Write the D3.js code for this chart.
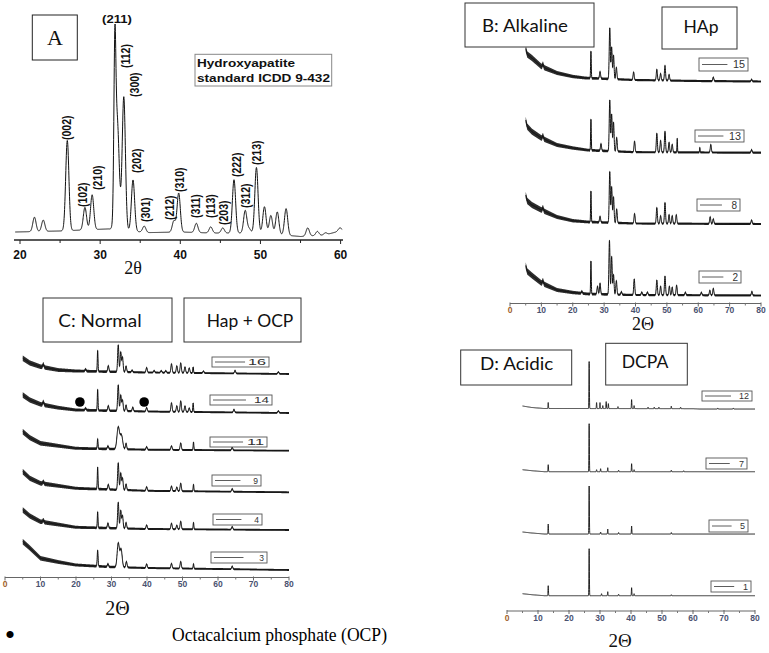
<!DOCTYPE html>
<html><head><meta charset="utf-8">
<script src="https://cdn.jsdelivr.net/npm/d3@7"></script>
<style>body{margin:0;background:#fff}svg{display:block}</style>
</head><body>
<script>
// ---------------- DATA ----------------
// Panel A : Hydroxyapatite standard ICDD 9-432  [2θ, relative intensity, (sigma)]
const aPeaks = [[21.8,7],[22.9,5.5],[25.9,44],[28.1,11],[29.0,17],[31.83,71,0.12],[32.12,54,0.25],
  [32.95,65],[34.1,25],[35.5,3],[39.2,5.5],[39.8,19],[42.0,4.5],[43.8,3],[45.3,2.5],[46.7,26],
  [48.1,11],[48.6,2],[49.5,32],[50.5,13],[51.3,9],[52.1,11],[53.2,13],[55.9,4],[57.1,2],[58.1,1],[59.9,1.5]];
const aBackground = [[19.4,0],[25,0.5],[31,1.5],[36,-0.3],[40,0],[44,-0.5],[50,-0.5],[55,-2.2],[58,-1.5],[60.2,0.8]];
const aLabels = [["(002)",25.85,44.9],["(102)",27.85,12.2],["(210)",29.7,20.5],["(112)",33.2,80],["(300)",34.3,65.9],
  ["(202)",34.57,28.8],["(301)",35.7,4.9],["(212)",38.7,5.9],["(310)",39.9,19.5],["(311)",41.9,6.8],["(113)",43.8,6.8],
  ["(203)",45.4,3.4],["(222)",47.0,26.8],["(312)",48.1,11.7],["(213)",49.5,32.7]];
const aTopLabel = ["(211)",32.1,102];
const aTicks = [20,30,40,50,60];
const aMinorTicks = [25,35,45,55];

// Panel B : Alkaline (HAp)   offsets = stacking offsets
const bNames = ["2","8","13","15"];
const bOffsets = [8,79.5,150.8,222];
const bPeaks2 = [[10.5,3],[22.9,2],[25.8,33,0.1],[27.9,8],[28.7,11],[31.7,54],[32.4,38],[33.0,20],[33.9,14],[35.5,3],
  [39.6,16],[42,3],[43.8,3],[46.8,15],[48.0,9],[49.4,19],[50.8,9],[51.7,8],[53.1,10],[55.9,3],[61,3],[63.7,5],[64.8,7],[77.1,4]];
const bPeaks8 = [[10.5,3],[25.8,31,0.1],[28.7,6],[31.8,51],[32.4,36],[33.0,26],[34.0,14],[39.7,10],[46.8,16],[48.0,8],
  [49.4,21],[50.7,9],[51.7,8],[53.0,9],[63.8,7],[64.8,5],[77,4]];
const bPeaks13 = [[10.5,3],[25.8,31,0.1],[29,7],[31.8,51],[32.4,37],[33.0,29],[34.0,14],[39.7,11],[46.8,19],[48.0,12],
  [49.4,21],[50.7,10],[51.7,8],[53.3,14,0.08],[60.5,5,0.08],[64,8],[77,3]];
const bPeaks15 = [[10.5,3],[25.8,27,0.1],[28.7,7],[31.8,51],[32.4,32],[33.0,24],[33.9,12],[39.4,8],[46.8,11],[48.0,7],
  [49.4,15],[50.7,6],[64.8,4],[77,2]];
const bBack2 = [[5,30],[5.5,24],[7,20],[10,12.5],[15,5.5],[20,3],[25,1.5],[40,0.5],[80,0]];
const bBack8 = [[5,29],[5.5,23],[7,19],[10,14],[15,7],[20,3.3],[25,2],[40,0.5],[80,0]];
const bBack13 = [[5,32.7],[5.5,26],[7,21],[10,14.7],[15,7.7],[20,4.7],[25,2.5],[40,0.5],[80,0]];
const bBack15 = [[5,33],[5.5,27],[7,23.5],[10,15],[15,8.5],[20,5],[24,3.5],[40,1.5],[60,0.5],[80,0]];
const bNoiseBand = [[5,3.2],[10,2.8],[15,2.0],[25,1.4],[40,1.1],[80,1.1]]; // half-thickness of noisy trace

// Panel C : Normal (Hap + OCP)
const cNames = ["3","4","9","11","14","16"];
const cOffsets = [7.5,47.5,85.2,126.8,164.5,203.5];
const cPeaks3 = [[26.1,16,0.12],[29,3],[31.9,24,0.3],[32.7,18,0.3],[34.2,6],[39.9,4],[46.9,5],[49.5,7],[53.1,5,0.1],[64,3]];
const cPeaks4 = [[10.8,2],[26.1,16,0.1],[29,5],[31.9,26],[32.6,18],[33.1,13],[34.1,6],[39.9,4],[46.9,6],[48.4,4],[49.5,8],[53.1,7,0.1],[64,3]];
const cPeaks9 = [[10.8,2],[26.1,22,0.1],[29.1,5],[31.9,27],[32.6,17],[33.1,12],[34.1,6],[39.9,4],[46.9,5],[48.4,4],[49.5,8],[53.1,7,0.1],[64,3]];
const cPeaks11 = [[26.1,10,0.1],[29,3],[31.9,22,0.35],[32.8,14,0.35],[34.1,6],[39.9,3],[46.9,4],[49.5,7],[53.1,8,0.1],[64,3]];
const cPeaks14 = [[10.8,3],[22.7,2],[26.1,21,0.1],[29.1,5],[31.9,26],[32.6,16],[33.1,11],[34.1,6],[36,4],[39.9,4],
  [46.9,9],[48.4,6],[49.5,11],[50.7,6],[51.9,4],[53.0,9,0.1],[64.5,3],[77,2]];
const cPeaks16 = [[10.8,3],[22.7,2],[26.1,21,0.1],[29.1,6],[31.9,27],[32.6,20],[33.1,15],[34.1,6],[35.8,2],[39.9,5],
  [42,2],[44,2],[45.3,2],[46.9,9],[48.4,7],[49.5,10],[50.7,6],[51.9,5],[53.0,6,0.1],[55.9,2],[64.8,3],[77,2]];
const cBack3 = [[5,28.3],[7,22],[10,11.7],[15,8],[20,5],[30,3],[40,2],[80,0]];
const cBack4 = [[5,20],[7,14],[10,8.3],[20,2.7],[40,1],[80,0]];
const cBack9 = [[5,20.6],[7,14],[10,9],[20,4],[40,1.5],[80,0]];
const cBack11 = [[5,19],[7,13],[10,7.4],[20,2.4],[40,1],[80,0]];
const cBack14 = [[5,18],[7,13],[10,8.7],[15,5.3],[20,3],[40,1.5],[80,0]];
const cBack16 = [[5,15.7],[7,11],[10,7.3],[15,4],[20,3],[40,1.5],[80,0]];
const cNoiseBand = [[5,2.8],[10,2.3],[20,1.5],[40,1.0],[80,0.9]];
const cOcpMarks = [[21.1,11],[39.2,11]]; // on trace 14

// Panel D : Acidic (DCPA)
const dNames = ["1","5","7","12"];
const dOffsets = [15.3,77,139.3,202];
const dPeaks1 = [[13.3,10],[26.5,47],[30.5,2],[32.5,4],[36,1.5],[40.2,8],[41,2],[53,1]];
const dPeaks5 = [[13.3,10],[26.5,48],[30.2,2],[32.5,5],[36,1.5],[40.2,8],[53,1.5]];
const dPeaks7 = [[13.3,7],[26.5,48],[28.9,2],[30.2,3],[32.5,4],[36,1.5],[40.2,8],[41,2],[53,1.5],[57,1]];
const dPeaks12 = [[13.3,6],[26.5,47],[28.9,6],[30.0,6],[30.9,3],[32.0,7],[32.7,5],[35.8,2],[40.2,9],[41.0,3],
  [45.5,1.5],[47.5,1.5],[49,1.5],[53,2.5],[56,1.5],[68,1],[73,1]];
const dBack1 = [[5,2],[8,1],[12,0],[80,0]];
const dBack5 = [[5,2],[8,1],[12,0],[80,0]];
const dBack7 = [[5,2],[8,1],[12,0],[80,0]];
const dBack12 = [[5,3],[8,1.5],[12,0.5],[60,0.3],[62,0],[80,0]];

const ticks80 = [0,10,20,30,40,50,60,70,80];
const minor80 = [5,15,25,35,45,55,65,75];

// ---------------- HELPERS ----------------
function bgAt(bg,x){
  if(x<=bg[0][0]) return bg[0][1];
  for(let i=1;i<bg.length;i++){
    if(x<=bg[i][0]){const t=(x-bg[i-1][0])/(bg[i][0]-bg[i-1][0]);return bg[i-1][1]+t*(bg[i][1]-bg[i-1][1]);}
  }
  return bg[bg.length-1][1];
}
function profile(peaks,bg,x0,x1,step,sigma,offset){
  let xs=d3.range(x0,x1+step/2,step);
  peaks.forEach(p=>xs.push(p[0]));
  xs=xs.filter(x=>x>=x0&&x<=x1).sort((a,b)=>a-b);
  return xs.map(x=>{
    let y=bgAt(bg,x)+offset;
    for(const p of peaks){const s=p[2]||sigma;const d=x-p[0];if(Math.abs(d)<6*s)y+=p[1]*Math.exp(-d*d/(2*s*s));}
    return [x,y];
  });
}
const svg=d3.select("body").append("svg").attr("width",769).attr("height",653)
  .style("font-family","'Liberation Sans',Arial,sans-serif");

function box(x,y,w,h,stroke,sw){
  svg.append("rect").attr("x",x).attr("y",y).attr("width",w).attr("height",h)
    .attr("fill","#fff").attr("stroke",stroke||"#222").attr("stroke-width",sw||1);
}
function boxText(t,x,y,len,size){
  svg.append("text").attr("x",x).attr("y",y).text(t).attr("font-family","Lato,'Open Sans',sans-serif")
    .attr("font-size",size||18).attr("fill","#111").attr("textLength",len).attr("lengthAdjust","spacingAndGlyphs");
}
function legend(x,y,w,h,label,size,len){
  svg.append("rect").attr("x",x).attr("y",y).attr("width",w).attr("height",h).attr("fill","#fff")
    .attr("stroke","#555").attr("stroke-width",0.9);
  svg.append("line").attr("x1",x+3).attr("x2",x+w*0.58).attr("y1",y+h/2).attr("y2",y+h/2)
    .attr("stroke","#333").attr("stroke-width",0.8);
  const t=svg.append("text").attr("x",x+w-3).attr("y",y+h/2).attr("dy","0.36em").attr("text-anchor","end")
    .attr("font-size",size).attr("fill","#333").text(label);
  if(len) t.attr("textLength",len).attr("lengthAdjust","spacingAndGlyphs");
}
function axis80(x,yAx){
  svg.append("line").attr("x1",x(0)).attr("x2",x(80)).attr("y1",yAx).attr("y2",yAx).attr("stroke","#666").attr("stroke-width",1);
  ticks80.forEach(t=>svg.append("line").attr("x1",x(t)).attr("x2",x(t)).attr("y1",yAx-1).attr("y2",yAx+3).attr("stroke","#666"));
  minor80.forEach(t=>svg.append("line").attr("x1",x(t)).attr("x2",x(t)).attr("y1",yAx).attr("y2",yAx+2).attr("stroke","#777"));
  ticks80.forEach(t=>svg.append("text").attr("x",x(t)).attr("y",yAx+9.5).attr("text-anchor","middle")
    .attr("font-size",8.5).attr("font-weight","bold").attr("fill",t===0?"#a0602a":"#4a5270").text(t));
}
function noisyTrace(data,x,y,band,sw){
  const area=d3.area().x(d=>x(d[0])).y0(d=>y(d[1]-bgAt(band,d[0]))).y1(d=>y(d[1]+bgAt(band,d[0])));
  svg.append("path").datum(data).attr("d",area).attr("fill","#111").attr("fill-opacity",0.88);
  svg.append("path").datum(data).attr("d",d3.line().x(d=>x(d[0])).y(d=>y(d[1])))
    .attr("fill","none").attr("stroke","#111").attr("stroke-width",sw);
}

// ---------------- PANEL A ----------------
const xA=d3.scaleLinear().domain([19.25,60.3]).range([14,343]);
const yA=d3.scaleLinear().domain([0,100]).range([232,27]);
const lineA=d3.line().x(d=>xA(d[0])).y(d=>yA(d[1]));
svg.append("path").datum(profile(aPeaks,aBackground,19.4,60.2,0.02,0.2,0)).attr("d",lineA)
  .attr("fill","none").attr("stroke","#111").attr("stroke-width",1);
svg.append("line").attr("x1",14).attr("x2",343).attr("y1",240).attr("y2",240).attr("stroke","#222").attr("stroke-width",1.4);
aTicks.forEach(t=>svg.append("line").attr("x1",xA(t)).attr("x2",xA(t)).attr("y1",240).attr("y2",244).attr("stroke","#222"));
aMinorTicks.forEach(t=>svg.append("line").attr("x1",xA(t)).attr("x2",xA(t)).attr("y1",240).attr("y2",243).attr("stroke","#222"));
aTicks.forEach(t=>svg.append("text").attr("x",xA(t)).attr("y",259).attr("text-anchor","middle")
  .attr("font-size",12).attr("font-weight","bold").attr("fill","#111").text(t));
aLabels.forEach(l=>{
  svg.append("text").attr("transform",`translate(${xA(l[1])},${yA(l[2])}) scale(1.25,1) rotate(-90)`)
    .attr("dominant-baseline","central").attr("font-size",10.5).attr("font-weight","bold").attr("fill","#111").text(l[0]);
});
svg.append("text").attr("transform",`translate(${xA(aTopLabel[1])},${yA(aTopLabel[2])}) scale(1.25,1)`)
  .attr("text-anchor","middle").attr("font-size",10.5).attr("font-weight","bold").attr("fill","#111").text(aTopLabel[0]);
box(32.3,15,45,45,"#222",1);
svg.append("text").attr("x",55).attr("y",45).attr("text-anchor","middle").attr("font-family","'Liberation Serif',serif")
  .attr("font-size",22).attr("fill","#111").text("A");
box(195,54.3,136.7,31.7,"#888",1);
svg.append("text").attr("x",197).attr("y",66.7).attr("font-size",11.5).attr("font-weight","bold").attr("fill","#111")
  .attr("textLength",98).attr("lengthAdjust","spacingAndGlyphs").text("Hydroxyapatite");
svg.append("text").attr("x",197).attr("y",81.5).attr("font-size",11.5).attr("font-weight","bold").attr("fill","#111")
  .attr("textLength",133).attr("lengthAdjust","spacingAndGlyphs").text("standard ICDD 9-432");
svg.append("text").attr("x",133).attr("y",274).attr("text-anchor","middle").attr("font-family","'Liberation Serif',serif")
  .attr("font-size",18).attr("fill","#111").text("2θ");

// ---------------- PANEL B ----------------
const xB=d3.scaleLinear().domain([0,80]).range([510,761]);
const yB=d3.scaleLinear().domain([0,300]).range([303.5,3.5]);
const bPeaks=[bPeaks2,bPeaks8,bPeaks13,bPeaks15], bBacks=[bBack2,bBack8,bBack13,bBack15];
bNames.forEach((n,i)=>{
  noisyTrace(profile(bPeaks[i],bBacks[i],5,80,0.03,0.17,bOffsets[i]),xB,yB,bNoiseBand,1);
});
axis80(xB,303.5);
box(465,3,129,44,"#333",1);
boxText("B: Alkaline",482,31.7,86);
box(662,7,75,42,"#333",1);
boxText("HAp",683.5,33.3,35);
legend(699,58,49,13,"15",10,12);
legend(695,130,49,12,"13",10,12);
legend(697,199,43,12,"8",10);
legend(699,271,42,12,"2",10);
svg.append("text").attr("x",643).attr("y",330).attr("text-anchor","middle").attr("font-family","'Liberation Serif',serif")
  .attr("font-size",18).attr("fill","#111").text("2Θ");

// ---------------- PANEL C ----------------
const xC=d3.scaleLinear().domain([0,80]).range([5,289]);
const yC=d3.scaleLinear().domain([0,300]).range([577.5,277.5]);
const cPeaks=[cPeaks3,cPeaks4,cPeaks9,cPeaks11,cPeaks14,cPeaks16], cBacks=[cBack3,cBack4,cBack9,cBack11,cBack14,cBack16];
cNames.forEach((n,i)=>{
  noisyTrace(profile(cPeaks[i],cBacks[i],5,80,0.03,0.17,cOffsets[i]),xC,yC,cNoiseBand,1);
});
cOcpMarks.forEach(m=>svg.append("circle").attr("cx",xC(m[0])).attr("cy",yC(m[1]+cOffsets[4])).attr("r",4.8).attr("fill","#000"));
axis80(xC,577.5);
box(43,298,129,44,"#333",1);
boxText("C: Normal",58.3,326.7,83.4);
box(184,298,117,44,"#333",1);
boxText("Hap + OCP",206.7,326.7,86.6);
legend(212,357,57,10,"16",8.5,18);
legend(210,395,62,10,"14",8.5,15);
legend(210,437,57,10,"11",8.5,17);
legend(212,475,49,11,"9",8.5);
legend(213,514,49,11,"4",8.5);
legend(211,552,56,11,"3",8.5);
svg.append("text").attr("x",117.5).attr("y",615).attr("text-anchor","middle").attr("font-family","'Liberation Serif',serif")
  .attr("font-size",20).attr("fill","#111").text("2Θ");

// ---------------- PANEL D ----------------
const xD=d3.scaleLinear().domain([0,80]).range([507,755]);
const yD=d3.scaleLinear().domain([0,300]).range([611,311]);
const lineD=d3.line().x(d=>xD(d[0])).y(d=>yD(d[1]));
const dPeaks=[dPeaks1,dPeaks5,dPeaks7,dPeaks12], dBacks=[dBack1,dBack5,dBack7,dBack12];
dNames.forEach((n,i)=>{
  svg.append("path").datum(profile(dPeaks[i],dBacks[i],5,80,0.02,0.07,dOffsets[i])).attr("d",lineD)
    .attr("fill","none").attr("stroke","#111").attr("stroke-width",0.9);
});
axis80(xD,611);
box(460.7,350,111,35,"#333",1);
boxText("D: Acidic",480,370,73.3);
box(605.7,343.3,81.6,41.7,"#333",1);
boxText("DCPA",621.7,368.3,46.6);
legend(702,391,50,10,"12",9,10);
legend(706,458,41,11,"7",9);
legend(709,520,39,12,"5",9);
legend(711,581,40,11,"1",9);
svg.append("text").attr("x",620).attr("y",647).attr("text-anchor","middle").attr("font-family","'Liberation Serif',serif")
  .attr("font-size",19).attr("fill","#111").text("2Θ");

// ---------------- FOOTNOTE ----------------
svg.append("text").attr("x",10).attr("y",645).attr("text-anchor","middle").attr("font-family","'Liberation Serif',serif")
  .attr("font-size",30).attr("fill","#000").text("•");
svg.append("text").attr("x",172).attr("y",641).attr("font-family","'Liberation Serif',serif")
  .attr("font-size",18).attr("fill","#000").attr("textLength",215).attr("lengthAdjust","spacingAndGlyphs")
  .text("Octacalcium phosphate (OCP)");
</script>
</body></html>
